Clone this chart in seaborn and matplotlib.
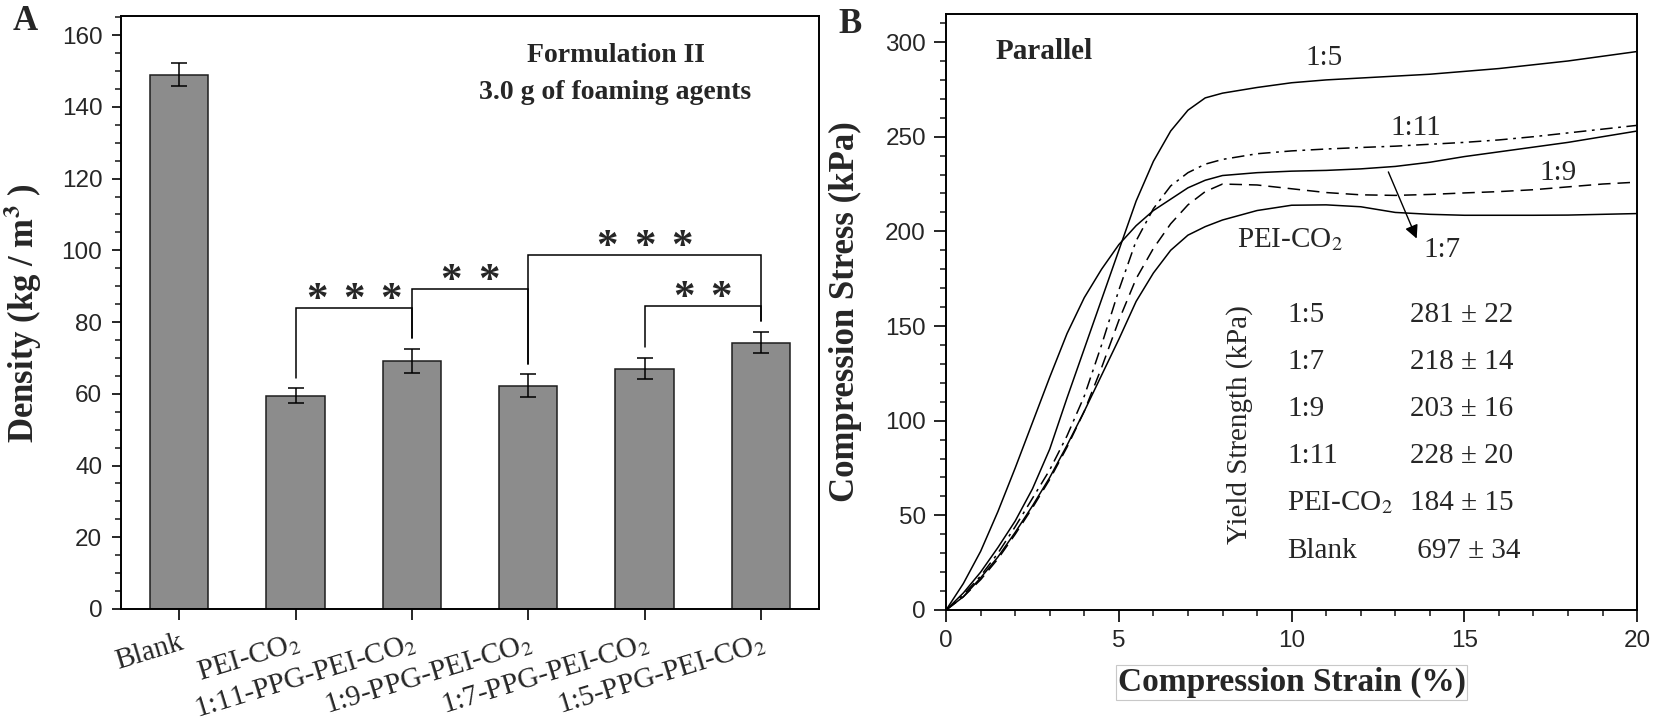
"""Foam density bars (A) and compression stress-strain curves (B)."""

import matplotlib
matplotlib.use("Agg")
import matplotlib.pyplot as plt
import matplotlib.transforms as mtransforms
from matplotlib.ticker import MultipleLocator
import numpy as np
import pandas as pd
import seaborn as sns

# ---- panel A data -------------------------------------------------------
GROUPS = ["Blank", "PEI-CO$_2$", "1:11-PPG-PEI-CO$_2$", "1:9-PPG-PEI-CO$_2$",
          "1:7-PPG-PEI-CO$_2$", "1:5-PPG-PEI-CO$_2$"]
DENSITY = [149.0, 59.5, 69.2, 62.3, 67.0, 74.3]
DENSITY_SD = [3.2, 2.0, 3.3, 3.1, 3.0, 3.0]
# (left bar, right bar, bracket level, number of stars)
COMPARISONS = [(1, 2, 83.9, 3), (2, 3, 89.2, 2), (3, 5, 98.7, 3), (4, 5, 84.5, 2)]

# ---- panel B data -------------------------------------------------------
STRAIN = [0, 0.5, 1, 1.5, 2, 2.5, 3, 3.5, 4, 4.5, 5, 5.5, 6, 6.5, 7, 7.5, 8,
          9, 10, 11, 12, 13, 14, 15, 16, 17, 18, 19, 20]
STRESS_1_5 = [0, 9, 20, 33, 47, 64, 85, 112, 138, 164, 190, 216, 237, 253, 264,
              270.5, 273, 276, 278.5, 280, 281, 282, 283, 284.5, 286, 288, 290,
              292.5, 295]
STRESS_1_7 = [0, 14, 31, 52, 75, 99, 123, 146, 165, 180, 193, 203, 211, 217,
              223, 227, 229.5, 231, 231.8, 232.2, 233, 234.3, 236.5, 239.5, 242,
              244.5, 247, 250, 253]
STRESS_1_9 = [0, 7, 16, 27, 40, 54, 69, 86, 105, 128, 153, 175, 191, 204, 214,
              221, 225, 224.5, 222.5, 220.5, 219.3, 219, 219.5, 220.3, 221, 222,
              223.5, 225, 226]
STRESS_1_11 = [0, 8, 18, 30, 44, 59, 74, 92, 113, 140, 169, 195, 212, 224, 231,
               235.5, 238, 241, 242.5, 243.5, 244.3, 245, 246, 247, 248.3, 250,
               252, 254, 256]
STRESS_PEI = [0, 7, 17, 28, 41, 55, 70, 87, 105, 124, 143, 163, 178, 190, 198,
              202.5, 206, 211, 213.8, 214, 213, 210, 209, 208.5, 208.5, 208.5,
              208.6, 209, 209.4]
SAMPLES = ["1:5", "1:7", "1:9", "1:11", "PEI-CO2"]

YIELD_LABELS = ["1:5", "1:7", "1:9", "1:11", "PEI-CO$_2$", "Blank"]
YIELD_VALUES = ["281 \u00b1 22", "218 \u00b1 14", "203 \u00b1 16",
                "228 \u00b1 20", "184 \u00b1 15", " 697 \u00b1 34"]

SERIF = ["Liberation Serif", "DejaVu Serif"]

sns.set_style("ticks")
plt.rcParams.update({
    "font.family": ["Liberation Sans", "DejaVu Sans"],
    "mathtext.fontset": "stix",
    "axes.linewidth": 1.4,
    "xtick.major.width": 1.4,
    "ytick.major.width": 1.4,
    "xtick.minor.width": 1.2,
    "ytick.minor.width": 1.2,
    "xtick.direction": "out",
    "ytick.direction": "out",
    "lines.scale_dashes": False,
    "axes.edgecolor": "black",
})

fig = plt.figure(figsize=(16.54, 7.23), dpi=100)
axA = fig.add_axes([0.0732, 0.1577, 0.422, 0.820])
axB = fig.add_axes([0.572, 0.1563, 0.4178, 0.8243])

# ---- panel A ------------------------------------------------------------
df_a = pd.DataFrame({"group": GROUPS, "density": DENSITY})
sns.barplot(data=df_a, x="group", y="density", ax=axA, color="#8c8c8c",
            saturation=1, width=0.5, edgecolor="#1e1e1e", linewidth=1.1,
            errorbar=None)
xpos = np.arange(len(GROUPS))
axA.errorbar(xpos, DENSITY, yerr=DENSITY_SD, fmt="none", ecolor="black",
             elinewidth=1.1, capsize=6, capthick=1.1, zorder=3)

tops = np.array(DENSITY) + np.array(DENSITY_SD) + 3
for i, j, level, n_stars in COMPARISONS:
    axA.plot([i, i, j, j], [tops[i], level, level, tops[j]], color="black",
             lw=1.1, solid_joinstyle="miter")
    for k in range(n_stars):
        axA.text((i + j) / 2 + (k - (n_stars - 1) / 2) * 0.32, level - 0.8,
                 "*", ha="center", va="baseline", fontsize=31,
                 fontweight="bold", family=SERIF)

axA.set_xlim(-0.5, 5.5)
axA.set_ylim(0, 165.3)
axA.yaxis.set_major_locator(MultipleLocator(20))
axA.yaxis.set_minor_locator(MultipleLocator(5))
axA.set_xticks(xpos)
axA.set_xticklabels(GROUPS, rotation=17, ha="right", rotation_mode="anchor",
                    fontsize=21, family=SERIF)
shift = mtransforms.ScaledTranslation(0.26, 0, fig.dpi_scale_trans)
for lab in axA.get_xticklabels():
    lab.set_transform(lab.get_transform() + shift)
axA.tick_params(axis="x", length=8, pad=7)
axA.tick_params(axis="y", which="major", length=6.5, labelsize=17.5, pad=7)
axA.tick_params(axis="y", which="minor", length=4)
axA.set_xlabel("")
axA.set_ylabel(r"Density (kg / m$^{\mathbf{3}}$ )", fontsize=25,
               fontweight="bold", family=SERIF)
axA.yaxis.set_label_coords(-0.110, 0.5)
for side in ["top", "right"]:
    axA.spines[side].set_visible(True)

axA.text(3.75, 152.6, "Formulation II", ha="center", va="baseline",
         fontsize=20, fontweight="bold", family=SERIF)
axA.text(3.75, 142.3, "3.0 g of foaming agents", ha="center", va="baseline",
         fontsize=20, fontweight="bold", family=SERIF)

# ---- panel B ------------------------------------------------------------
df_b = pd.DataFrame({
    "strain": STRAIN * len(SAMPLES),
    "stress": STRESS_1_5 + STRESS_1_7 + STRESS_1_9 + STRESS_1_11 + STRESS_PEI,
    "sample": np.repeat(SAMPLES, len(STRAIN)),
})
DASHES = {"1:5": "", "1:7": "", "1:9": (9, 5), "1:11": (9, 4, 2, 4),
          "PEI-CO2": ""}
sns.lineplot(data=df_b, x="strain", y="stress", style="sample",
             style_order=SAMPLES, dashes=DASHES, color="black", linewidth=1.1,
             estimator=None, legend=False, ax=axB)

axB.set_xlim(0, 20)
axB.set_ylim(0, 314.8)
axB.xaxis.set_major_locator(MultipleLocator(5))
axB.xaxis.set_minor_locator(MultipleLocator(1))
axB.yaxis.set_major_locator(MultipleLocator(50))
axB.yaxis.set_minor_locator(MultipleLocator(10))
axB.tick_params(which="major", length=8.5, labelsize=17.5, pad=6)
axB.tick_params(which="minor", length=4.5)
axB.set_xlabel("Compression Strain (%)", fontsize=24, fontweight="bold",
               family=SERIF,
               bbox=dict(boxstyle="square,pad=0.05", fc="none",
                         ec="#c8c8c8", lw=0.8))
axB.xaxis.set_label_coords(0.5, -0.0956)
axB.set_ylabel("Compression Stress (kPa)", fontsize=25, fontweight="bold",
               family=SERIF)
axB.yaxis.set_label_coords(-0.1216, 0.5)

axB.text(1.42, 290.8, "Parallel", ha="left", va="baseline", fontsize=21,
         fontweight="bold", family=SERIF)

curve_labels = [("1:5", 10.94, 287.8), ("1:11", 13.6, 250.8),
                ("1:9", 17.72, 227.0), ("PEI-CO$_2$", 9.95, 191.8),
                ("1:7", 14.34, 186.5)]
for text, x, y in curve_labels:
    axB.text(x, y, text, ha="center", va="baseline", fontsize=21,
             family=SERIF)
axB.annotate("", xy=(13.62, 196.2), xytext=(12.8, 231.4),
             arrowprops=dict(arrowstyle="-|>", color="black", lw=1.0,
                             mutation_scale=20, shrinkA=0, shrinkB=0))

for k, (lab, val) in enumerate(zip(YIELD_LABELS, YIELD_VALUES)):
    y = 152.2 - k * 24.9
    axB.text(9.88, y, lab, ha="left", va="baseline", fontsize=21, family=SERIF)
    axB.text(13.43, y, val, ha="left", va="baseline", fontsize=21,
             family=SERIF)
axB.text(8.5, 97.7, "Yield Strength (kPa)", ha="center", va="center",
         rotation=90, fontsize=21, family=SERIF)

fig.text(13 / 1654, 1 - 30 / 723, "A", ha="left", va="baseline", fontsize=25,
         fontweight="bold", family=SERIF)
fig.text(838 / 1654, 1 - 33.3 / 723, "B", ha="left", va="baseline",
         fontsize=25, fontweight="bold", family=SERIF)

fig.savefig("out.png", dpi=100)
